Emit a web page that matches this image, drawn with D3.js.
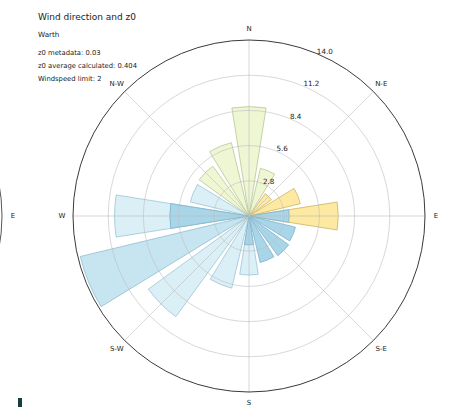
<!DOCTYPE html>
<html>
<head>
<meta charset="utf-8">
<script src="https://cdn.jsdelivr.net/npm/d3@7"></script>
<style>
  html, body { margin: 0; padding: 0; background: #ffffff; }
  svg { display: block; font-family: "DejaVu Sans", sans-serif; }
</style>
</head>
<body>
<svg id="chart" width="449" height="407"></svg>
<script>
// Wind rose: 16 compass sectors, outer bar coloured by z0 class, inner bar = low-speed share
const sectors = ["N","NNE","NE","ENE","E","ESE","SE","SSE","S","SSW","SW","WSW","W","WNW","NW","NNW"];
const outerValues = [8.7, 3.9, 2.2, 4.2, 7.1, 0, 0, 0, 4.7, 5.9, 9.9, 13.8, 10.7, 4.8, 4.9, 6.0];
const outerClass  = ["green","green","yellow","yellow","yellow","blue","blue","blue","light","light","light","mid","light","light","green","green"];
const innerValues = [0, 0, 0, 0, 3.2, 3.8, 3.9, 3.8, 2.3, 0, 0, 0, 6.3, 0, 0, 0];
const rTicks = [2.8, 5.6, 8.4, 11.2, 14.0];
const compassLabels = ["N","N-E","E","S-E","S","S-W","W","N-W"];
const infoLines = ["z0 metadata: 0.03", "z0 average calculated: 0.404", "Windspeed limit: 2"];

const palette = {
  green:  { fill: "#eef6d4", stroke: "#b7c796" },
  yellow: { fill: "#fde9a1", stroke: "#cbb562" },
  light:  { fill: "#dbeff7", stroke: "#9dc4d5" },
  mid:    { fill: "#c6e5f1", stroke: "#92bed1" },
  blue:   { fill: "#a9d5e8", stroke: "#7fb2c9" }
};

const svg = d3.select("#chart");
const cx = 249, cy = 216, R = 176;
const r = d3.scaleLinear().domain([0, 14]).range([0, R]);
const step = 2 * Math.PI / sectors.length;
const barWidth = step * 0.8;
const angle = d3.scaleBand().domain(sectors).range([0, 2 * Math.PI]);

// neighbouring rose peeking in at the left edge
const nb = svg.append("g").attr("transform", `translate(${13 - 187},${cy})`);
nb.append("circle").attr("r", R).attr("fill", "none").attr("stroke", "#555").attr("stroke-width", 1);
nb.append("text").attr("x", 187).attr("y", 0).attr("dy", "0.35em").attr("text-anchor", "middle")
  .attr("font-size", 7).attr("fill", "#222").text("E");

const g = svg.append("g").attr("transform", `translate(${cx},${cy})`);
const arc = d3.arc().innerRadius(0);

function drawBars(values, cls) {
  g.append("g").selectAll("path")
    .data(sectors.map((s, i) => ({ s, v: values[i], c: typeof cls === "string" ? cls : cls[i] })).filter(d => d.v > 0))
    .join("path")
    .attr("d", d => {
      const a = angle(d.s);
      return arc({ outerRadius: r(d.v), startAngle: a - barWidth / 2, endAngle: a + barWidth / 2 });
    })
    .attr("fill", d => palette[d.c].fill)
    .attr("stroke", d => palette[d.c].stroke)
    .attr("stroke-width", 0.8);
}
drawBars(outerValues, outerClass);
drawBars(innerValues, "blue");

// grid on top of bars
const grid = g.append("g").attr("fill", "none").attr("stroke", "#bdbdbd").attr("stroke-opacity", 0.75).attr("stroke-width", 0.8);
grid.selectAll("circle").data(rTicks.slice(0, -1)).join("circle").attr("r", d => r(d));
grid.selectAll("line").data(d3.range(8)).join("line")
  .attr("x1", 0).attr("y1", 0)
  .attr("x2", i => R * Math.sin(i * Math.PI / 4))
  .attr("y2", i => -R * Math.cos(i * Math.PI / 4));
g.append("circle").attr("r", R).attr("fill", "none").attr("stroke", "#3a3a3a").attr("stroke-width", 1);

// radial tick labels along 22.5°
const la = Math.PI / 8;
g.selectAll("text.rt").data(rTicks).join("text").attr("class", "rt")
  .attr("x", d => r(d) * Math.sin(la) + 0.5)
  .attr("y", d => -r(d) * Math.cos(la) + 0.5)
  .attr("font-size", 7.2).attr("fill", "#222")
  .text(d => d.toFixed(1));

// compass labels
g.selectAll("text.cl").data(compassLabels).join("text").attr("class", "cl")
  .attr("x", (d, i) => 187 * Math.sin(i * Math.PI / 4))
  .attr("y", (d, i) => -187 * Math.cos(i * Math.PI / 4))
  .attr("dy", "0.35em").attr("text-anchor", "middle")
  .attr("font-size", 7).attr("fill", "#222")
  .text(d => d);

// header text
svg.append("text").attr("x", 38).attr("y", 19.5).attr("font-size", 9).attr("fill", "#222").text("Wind direction and z0");
svg.append("text").attr("x", 38).attr("y", 37).attr("font-size", 7.2).attr("fill", "#222").text("Warth");
svg.selectAll("text.info").data(infoLines).join("text").attr("class", "info")
  .attr("x", 38).attr("y", (d, i) => 54.5 + i * 13)
  .attr("font-size", 6.8).attr("fill", "#222").text(d => d);

// small marker bottom-left
svg.append("rect").attr("x", 18).attr("y", 398).attr("width", 4).attr("height", 9).attr("fill", "#173c44");
</script>
</body>
</html>
